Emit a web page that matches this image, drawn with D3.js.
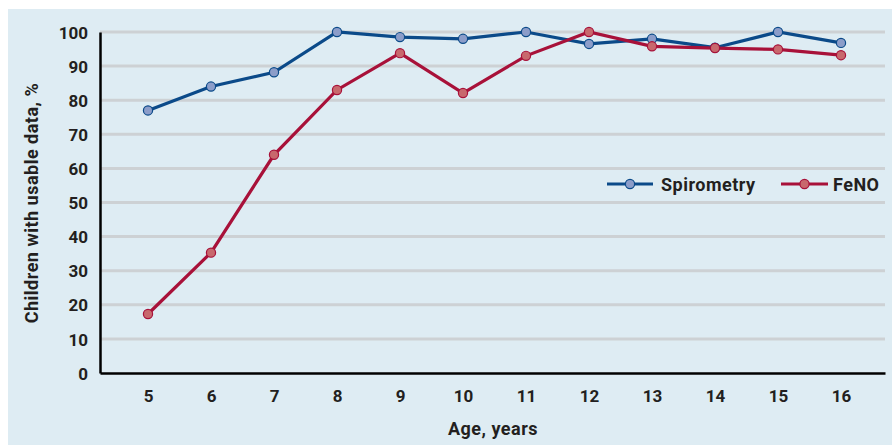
<!DOCTYPE html>
<html><head><meta charset="utf-8">
<script src="https://cdn.jsdelivr.net/npm/d3@7"></script>
<style>
html,body{margin:0;padding:0;background:#fff;}
svg text{font-family:Roboto,"DejaVu Sans",sans-serif;font-weight:bold;fill:#231f20;}
</style></head>
<body>
<svg id="c" width="892" height="445"></svg>
<script>
const ages = [5,6,7,8,9,10,11,12,13,14,15,16];
const spirometry = [77,84,88.2,100,98.5,98,100,96.5,98,95.4,100,96.8];
const feno = [17.3,35.3,64,83,93.8,82.1,93,100,95.8,95.3,94.9,93.2];
const yTicks = [0,10,20,30,40,50,60,70,80,90,100];
const seriesNames = ["Spirometry","FeNO"];

const svg = d3.select("#c");
svg.append("rect").attr("x",8).attr("y",9).attr("width",884).attr("height",436).attr("fill","#deecf3");

const x = d3.scaleLinear().domain([5 - 48/63, 16 + 44/63]).range([100, 885]);
const y = d3.scaleLinear().domain([0,100]).range([373,32]);

// gridlines
svg.append("g").selectAll("line").data(yTicks.filter(d=>d>0)).join("line")
  .attr("x1",100).attr("x2",885).attr("y1",d=>y(d)).attr("y2",d=>y(d))
  .attr("stroke","#cdd1d4").attr("stroke-width",3);

// y axis
const ya = svg.append("g").attr("transform","translate(100,0)")
  .call(d3.axisLeft(y).tickValues(yTicks).tickSize(0).tickPadding(12));
ya.select(".domain").attr("stroke","#000").attr("stroke-width",2.5);
ya.selectAll("text").style("font-size","17px").attr("dy","0.36em");

// x axis
const xa = svg.append("g").attr("transform","translate(0,373)")
  .call(d3.axisBottom(x).tickValues(ages).tickSize(0).tickPadding(17).tickSizeOuter(0));
xa.select(".domain").attr("stroke","#000").attr("stroke-width",2.5);
xa.selectAll("text").style("font-size","17px");

svg.append("text").attr("transform","translate(38,203) rotate(-90)")
  .attr("text-anchor","middle").style("font-size","18px").style("letter-spacing","0.5px")
  .text("Children with usable data, %");
svg.append("text").attr("x",493).attr("y",435).attr("text-anchor","middle")
  .style("font-size","18px").style("letter-spacing","0.5px").text("Age, years");

const colors = [{line:"#0b4a89",fill:"#8c9dc9"},{line:"#a81139",fill:"#c8686d"}];
const data = [spirometry, feno];
const line = d3.line().x((d,i)=>x(ages[i])).y(d=>y(d));
data.forEach((s,k)=>{
  svg.append("path").datum(s).attr("d",line).attr("fill","none")
    .attr("stroke",colors[k].line).attr("stroke-width",3.2);
});
data.forEach((s,k)=>{
  svg.append("g").selectAll("circle").data(s).join("circle")
    .attr("cx",(d,i)=>x(ages[i])).attr("cy",d=>y(d)).attr("r",4.6)
    .attr("fill",colors[k].fill).attr("stroke",colors[k].line).attr("stroke-width",1.2);
});

// legend
const leg = [{x1:607,x2:653,tx:661},{x1:781,x2:828,tx:833}];
leg.forEach((l,k)=>{
  const g = svg.append("g");
  g.append("line").attr("x1",l.x1).attr("x2",l.x2).attr("y1",184).attr("y2",184)
    .attr("stroke",colors[k].line).attr("stroke-width",3.2);
  g.append("circle").attr("cx",(l.x1+l.x2)/2).attr("cy",184).attr("r",4.6)
    .attr("fill",colors[k].fill).attr("stroke",colors[k].line).attr("stroke-width",1.2);
  g.append("text").attr("x",l.tx).attr("y",191).style("font-size","18px").style("letter-spacing","0.5px")
    .text(seriesNames[k]);
});
</script>
</body></html>
